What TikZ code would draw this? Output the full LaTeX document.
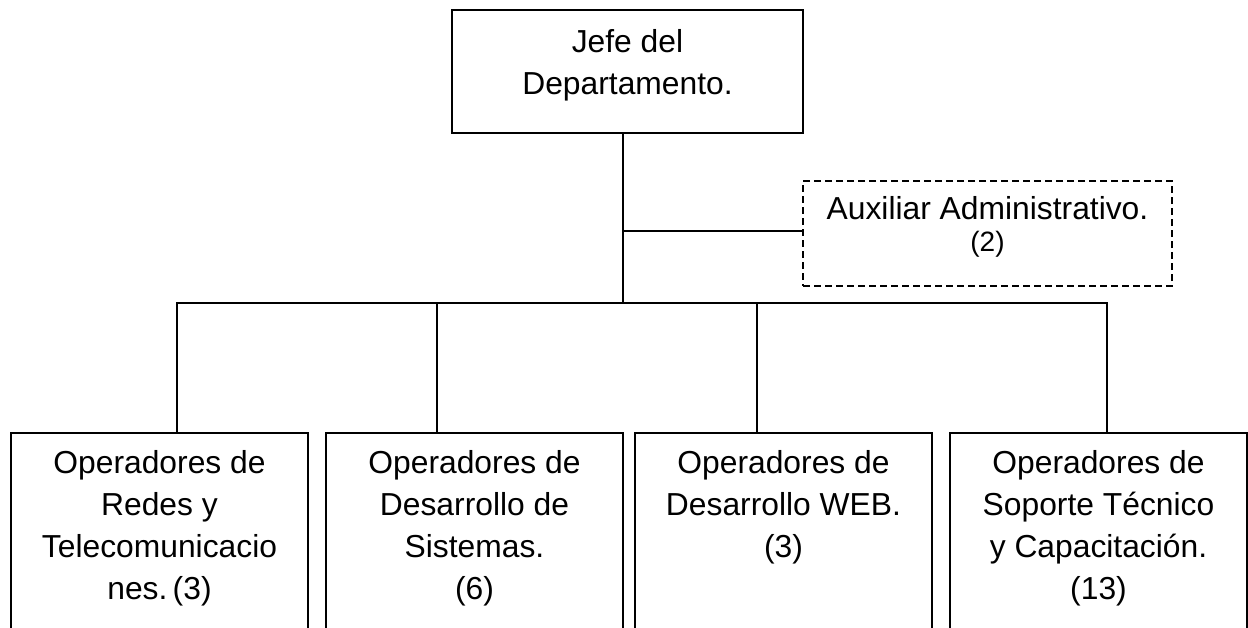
\documentclass[tikz,border=0pt]{standalone}
\usepackage{fontspec}
\setmainfont{Liberation Sans}
\newcommand\tstrut{\rule{0pt}{25pt}}
\begin{document}
\begin{tikzpicture}[x=1pt,y=-1pt,
  box/.style={draw, line width=1.8pt, inner sep=0pt, outer sep=0pt, anchor=north west},
  dashbox/.style={box, line width=1.6pt, dash pattern=on 7pt off 4pt},
  txt/.style={font=\fontsize{31.8}{42}\selectfont, align=center, inner sep=0pt, outer sep=0pt, anchor=north},
  conn/.style={draw, line width=1.8pt}]
\useasboundingbox (0,0) rectangle (1248,627);
\clip (0,0) rectangle (1248,627);
% boxes
\node[box, minimum width=351, minimum height=123] (jefe) at (452,10) {};
\node[dashbox, minimum width=369, minimum height=105] (aux) at (803,181) {};
\node[box, minimum width=297, minimum height=260] (b1) at (11,433) {};
\node[box, minimum width=297, minimum height=260] (b2) at (326,433) {};
\node[box, minimum width=297, minimum height=260] (b3) at (635,433) {};
\node[box, minimum width=297, minimum height=260] (b4) at (950,433) {};
% texts
\node[txt] (tj) at ([yshift=-17pt]jefe.north) {\tstrut Jefe del\\Departamento.};
\node[txt, font=\fontsize{31.8}{32}\selectfont] (ta) at ([yshift=-13pt]aux.north) {\tstrut Auxiliar Administrativo.\\{\fontsize{28}{32}\selectfont (2)}};
\node[txt] (t1) at ([yshift=-15pt]b1.north) {\tstrut Operadores de\\Redes y\\Telecomunicacio\\nes.\,(3)};
\node[txt] (t2) at ([yshift=-15pt]b2.north) {\tstrut Operadores de\\Desarrollo de\\Sistemas.\\(6)};
\node[txt] (t3) at ([yshift=-15pt]b3.north) {\tstrut Operadores de\\Desarrollo WEB.\\(3)};
\node[txt] (t4) at ([yshift=-15pt]b4.north) {\tstrut Operadores de\\Soporte Técnico\\y Capacitación.\\(13)};
% connectors
\coordinate (bus) at (623,303);
\coordinate (ab) at (803,231);
\coordinate (d1) at (177,303);
\coordinate (d2) at (437,303);
\coordinate (d3) at (757,303);
\coordinate (d4) at (1107,303);
\draw[conn] (bus |- jefe.south) -- (bus);
\draw[conn] (bus |- ab) -- (ab);
\draw[conn] (d1 |- b1.north) -- (d1) -- (d4) -- (d4 |- b4.north);
\draw[conn] (d2) -- (d2 |- b2.north);
\draw[conn] (d3) -- (d3 |- b3.north);
\end{tikzpicture}
\end{document}
